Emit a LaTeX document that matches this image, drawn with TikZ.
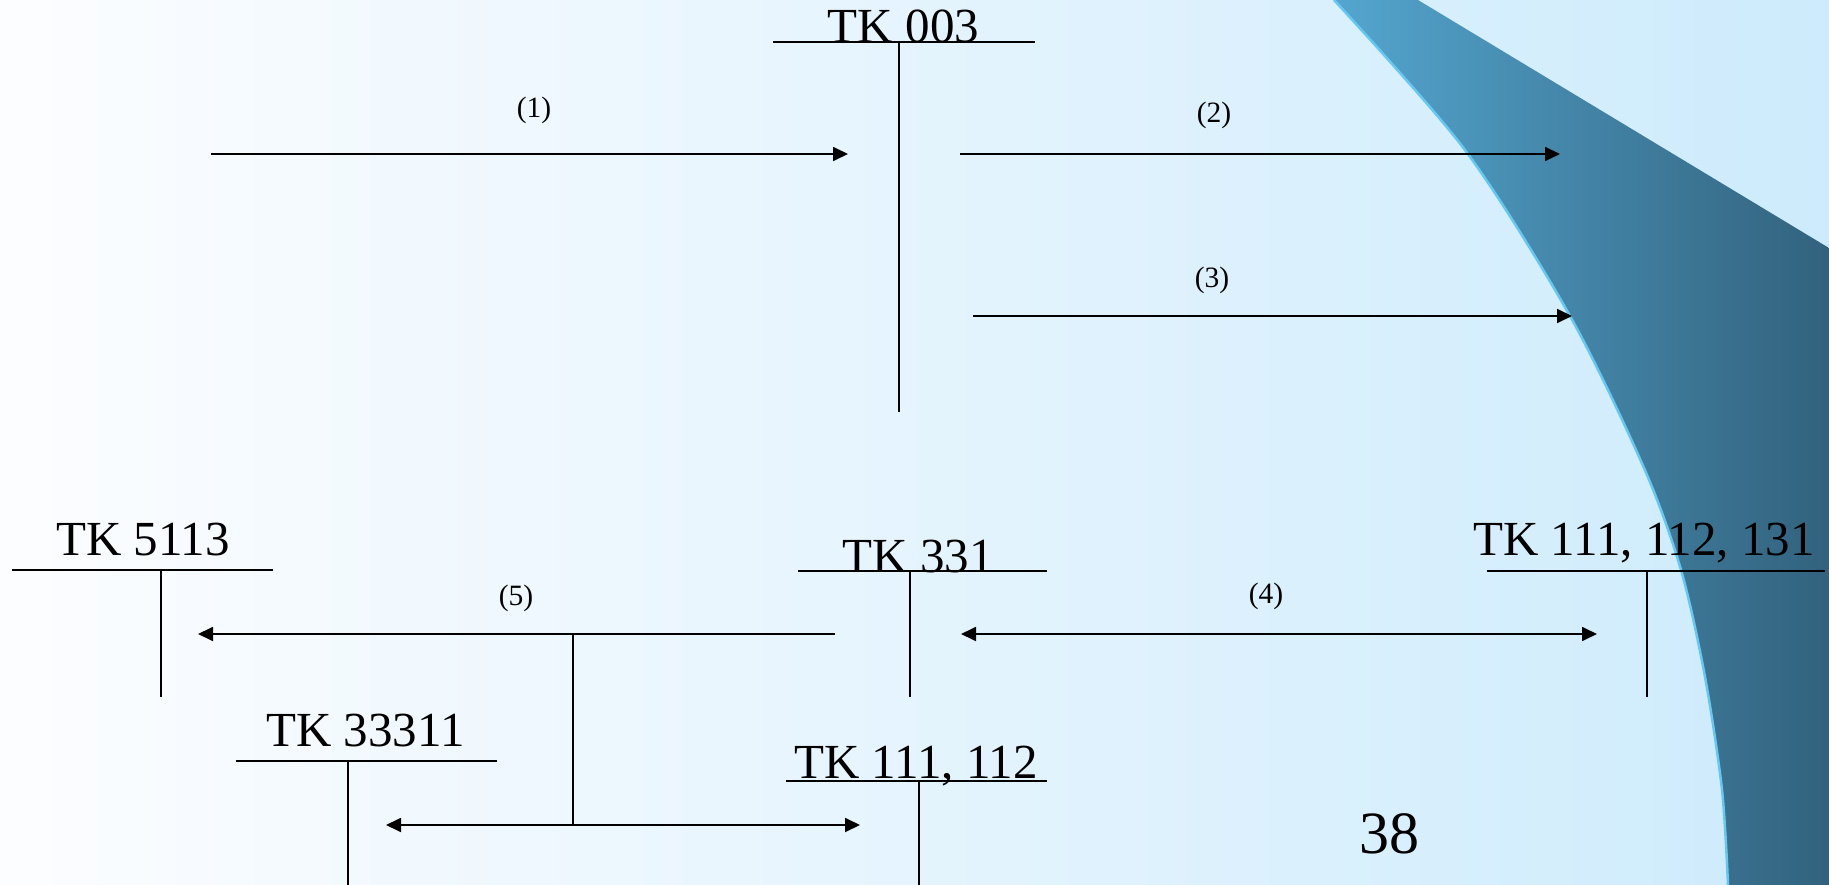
\documentclass[tikz,border=0pt]{standalone}
\usepackage{fontspec}
\setmainfont{Liberation Serif}
\usetikzlibrary{arrows.meta}
\definecolor{bgL}{RGB}{252,253,255}
\definecolor{bgR}{RGB}{205,235,252}
\definecolor{decoL}{RGB}{84,166,208}
\definecolor{decoR}{RGB}{50,98,125}
\definecolor{decoEdge}{RGB}{100,200,245}
\begin{document}
\begin{tikzpicture}[x=1pt,y=-1pt,
  ln/.style={line width=1.8pt, black},
  arr/.style={ln, -{Triangle[length=15pt,width=14pt]}},
  darr/.style={ln, {Triangle[length=15pt,width=14pt]}-{Triangle[length=15pt,width=14pt]}},
  big/.style={font=\fontsize{49}{52}\selectfont, inner sep=0pt, anchor=base},
  small/.style={font=\fontsize{29.5}{32}\selectfont, inner sep=0pt},
]
\useasboundingbox (0,0) rectangle (1829,885);
% background
\shade[left color=bgL, right color=bgR] (0,0) rectangle (1829,885);
% decorative swoosh
\shade[left color=decoL, right color=decoR]
  plot[smooth] coordinates {(1334,0) (1465,150) (1570,316) (1644,468) (1681,570) (1705,677) (1722,790) (1728,885)}
  -- (1829,885) -- (1829,248) -- (1418,0) -- cycle;
\draw[decoEdge, line width=2.5pt]
  plot[smooth] coordinates {(1334,0) (1465,150) (1570,316) (1644,468) (1681,570) (1705,677) (1722,790) (1728,885)};

% ---- TK 003
\node[big] (t003) at (903.5,43) {TK 003};
\coordinate (u003a) at (773,42); \coordinate (u003b) at (1035,42);
\coordinate (v003a) at (899,42); \coordinate (v003b) at (899,412);
\draw[ln] (u003a) -- (u003b);
\draw[ln] (v003a) -- (v003b);

% arrows (1) (2) (3)
\coordinate (a1s) at (211,154); \coordinate (a1e) at (848,154);
\coordinate (a2s) at (960,154); \coordinate (a2e) at (1560,154);
\coordinate (a3s) at (973,316); \coordinate (a3e) at (1572,316);
\draw[arr] (a1s) -- (a1e);
\draw[arr] (a2s) -- (a2e);
\draw[arr] (a3s) -- (a3e);
\node[small] (l1) at (534,110) {(1)};
\node[small] (l2) at (1214,115) {(2)};
\node[small] (l3) at (1212,280) {(3)};

% ---- TK 5113
\node[big] (t5113) at (143,555) {TK 5113};
\coordinate (u5113a) at (12,570); \coordinate (u5113b) at (273,570);
\coordinate (v5113a) at (161,570); \coordinate (v5113b) at (161,697);
\draw[ln] (u5113a) -- (u5113b);
\draw[ln] (v5113a) -- (v5113b);

% ---- TK 331
\node[big] (t331) at (918,572) {TK 331};
\coordinate (u331a) at (798,571); \coordinate (u331b) at (1047,571);
\coordinate (v331a) at (910,571); \coordinate (v331b) at (910,697);
\draw[ln] (u331a) -- (u331b);
\draw[ln] (v331a) -- (v331b);

% ---- TK 111, 112, 131
\node[big] (t131) at (1644,555) {TK 111, 112, 131};
\coordinate (u131a) at (1487,571); \coordinate (u131b) at (1825,571);
\coordinate (v131a) at (1647,571); \coordinate (v131b) at (1647,697);
\draw[ln] (u131a) -- (u131b);
\draw[ln] (v131a) -- (v131b);

% ---- TK 33311
\node[big] (t33311) at (365.5,746) {TK 33311};
\coordinate (u33311a) at (236,761); \coordinate (u33311b) at (497,761);
\coordinate (v33311a) at (348,761); \coordinate (v33311b) at (348,885);
\draw[ln] (u33311a) -- (u33311b);
\draw[ln] (v33311a) -- (v33311b);

% ---- TK 111, 112
\node[big] (t112) at (916,778) {TK 111, 112};
\coordinate (u112a) at (786,781); \coordinate (u112b) at (1047,781);
\coordinate (v112a) at (919,781); \coordinate (v112b) at (919,885);
\draw[ln] (u112a) -- (u112b);
\draw[ln] (v112a) -- (v112b);

% arrow (5), junction and lower double arrow
\coordinate (a5s) at (835,634); \coordinate (a5e) at (198,634);
\coordinate (j5) at (573,634); \coordinate (j6) at (573,825);
\coordinate (a6s) at (386,825); \coordinate (a6e) at (860,825);
\draw[arr] (a5s) -- (a5e);
\draw[ln] (j5) -- (j6);
\draw[darr] (a6s) -- (a6e);
\node[small] (l5) at (516,598) {(5)};

% arrow (4)
\coordinate (a4s) at (961,634); \coordinate (a4e) at (1597,634);
\draw[darr] (a4s) -- (a4e);
\node[small] (l4) at (1266,596) {(4)};

% page number
\node[font=\fontsize{60}{64}\selectfont, inner sep=0pt] (pg) at (1389,834) {38};
\end{tikzpicture}
\end{document}
